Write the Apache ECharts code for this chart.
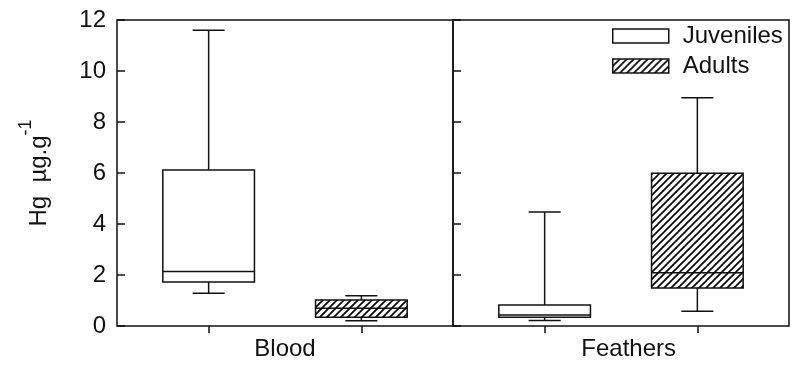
<!DOCTYPE html>
<html>
<head>
<meta charset="utf-8">
<script src="https://cdn.jsdelivr.net/npm/echarts@6/dist/echarts.min.js"></script>
<style>
  html, body { margin: 0; padding: 0; background: #fff; }
  #chart { width: 793px; height: 372px; }
</style>
</head>
<body>
<div id="chart"></div>
<script>
// tissue panels and groups
const tissues = ['Blood', 'Feathers'];
const groups = ['Juveniles', 'Adults'];
// [lower whisker, Q1, median, Q3, upper whisker] per tissue
const juveniles = [
    [1.28, 1.73, 2.14, 6.12, 11.6],
    [0.22, 0.34, 0.43, 0.82, 4.47]
];
const adults = [
    [0.21, 0.34, 0.70, 1.02, 1.19],
    [0.58, 1.49, 2.09, 5.99, 8.95]
];
const yTicks = [0, 2, 4, 6, 8, 10, 12];

const INK = '#111';
const FONT = 'Liberation Sans, Arial, sans-serif';
const BOX_W = 0.6;
const CAP_W = 0.21;

// diagonal hatch used for adults
const hatchCanvas = (function () {
    const c = document.createElement('canvas');
    c.width = 7;
    c.height = 7;
    const ctx = c.getContext('2d');
    ctx.strokeStyle = '#000';
    ctx.lineWidth = 1.6;
    ctx.beginPath();
    ctx.moveTo(-1, 8); ctx.lineTo(8, -1);
    ctx.moveTo(-1, 1); ctx.lineTo(1, -1);
    ctx.moveTo(6, 8); ctx.lineTo(8, 6);
    ctx.stroke();
    return c;
})();
const hatch = {image: hatchCanvas, repeat: 'repeat'};

function renderBox(fill) {
    return function (params, api) {
        const x = api.value(0);
        const p = [1, 2, 3, 4, 5].map(i => api.coord([x, api.value(i)]));
        const bw = api.size([BOX_W, 0])[0];
        const cw = api.size([CAP_W, 0])[0];
        const cx = p[0][0];
        const ln = {stroke: INK, lineWidth: 1.5};
        const hl = (y, w) => ({type: 'line', shape: {x1: cx - w / 2, y1: y, x2: cx + w / 2, y2: y}, style: ln});
        return {
            type: 'group',
            children: [
                {type: 'line', shape: {x1: cx, y1: p[4][1], x2: cx, y2: p[3][1]}, style: ln},
                {type: 'line', shape: {x1: cx, y1: p[1][1], x2: cx, y2: p[0][1]}, style: ln},
                hl(p[4][1], cw),
                hl(p[0][1], cw),
                {
                    type: 'rect',
                    shape: {x: cx - bw / 2, y: p[3][1], width: bw, height: p[1][1] - p[3][1]},
                    style: {fill: fill, stroke: INK, lineWidth: 1.5}
                },
                hl(p[2][1], bw)
            ]
        };
    };
}

const chart = echarts.init(document.getElementById('chart'), null, {renderer: 'canvas'});

const grids = [0, 1].map(i => ({
    left: 117 + i * 336,
    top: 20,
    width: 336,
    height: 306,
    show: true,
    borderColor: INK,
    borderWidth: 1.5,
    backgroundColor: 'transparent'
}));

const xAxes = [0, 1].map(i => ({
    gridIndex: i,
    type: 'value',
    min: -0.6,
    max: 1.6,
    splitLine: {show: false},
    axisLine: {show: false, onZero: false},
    axisTick: {show: true, inside: false, length: 7, customValues: [0, 1], lineStyle: {color: INK, width: 1.5}},
    axisLabel: {
        customValues: [i === 0 ? 0.5 : 0.55],
        formatter: () => tissues[i],
        color: INK,
        fontFamily: FONT,
        fontSize: 24,
        margin: 11
    }
}));

const yAxes = [0, 1].map(i => ({
    gridIndex: i,
    type: 'value',
    min: 0,
    max: 12,
    interval: 2,
    splitLine: {show: false},
    axisLine: {show: false, onZero: false},
    axisTick: {show: true, inside: true, length: 8, lineStyle: {color: INK, width: 1.5}},
    axisLabel: {
        show: i === 0,
        color: INK,
        fontFamily: FONT,
        fontSize: 24,
        margin: 11,
        formatter: v => (yTicks.indexOf(v) >= 0 ? String(v) : '')
    },
    name: i === 0 ? '{m|Hg  µg.g}{s|-1}' : '',
    nameLocation: 'middle',
    nameRotate: 90,
    nameGap: 66,
    nameTextStyle: {
        color: INK,
        fontFamily: FONT,
        rich: {
            m: {fontSize: 24, fontFamily: FONT, color: INK, verticalAlign: 'bottom', lineHeight: 34},
            s: {fontSize: 18, fontFamily: FONT, color: INK, verticalAlign: 'top', lineHeight: 20}
        }
    }
}));

const series = [];
tissues.forEach((t, i) => {
    series.push({
        name: groups[0],
        type: 'custom',
        xAxisIndex: i,
        yAxisIndex: i,
        itemStyle: {color: '#fff', borderColor: INK},
        encode: {x: 0, y: [1, 2, 3, 4, 5]},
        data: [[0].concat(juveniles[i])],
        renderItem: renderBox('#fff')
    });
    series.push({
        name: groups[1],
        type: 'custom',
        xAxisIndex: i,
        yAxisIndex: i,
        itemStyle: {color: hatch, borderColor: INK},
        encode: {x: 0, y: [1, 2, 3, 4, 5]},
        data: [[1].concat(adults[i])],
        renderItem: renderBox(hatch)
    });
});

chart.setOption({
    animation: false,
    backgroundColor: '#fff',
    grid: grids,
    xAxis: xAxes,
    yAxis: yAxes,
    legend: {
        orient: 'vertical',
        left: 612,
        top: 24,
        padding: 0,
        itemWidth: 56,
        itemHeight: 14,
        itemGap: 6,
        selectedMode: false,
        textStyle: {color: INK, fontFamily: FONT, fontSize: 24, lineHeight: 24, padding: [0, 0, 0, 9]},
        data: [
            {name: groups[0], icon: 'rect', itemStyle: {color: '#fff', borderColor: INK, borderWidth: 1.5}},
            {name: groups[1], icon: 'rect', itemStyle: {color: hatch, borderColor: INK, borderWidth: 1.5}}
        ]
    },
    series: series
});
</script>
</body>
</html>
